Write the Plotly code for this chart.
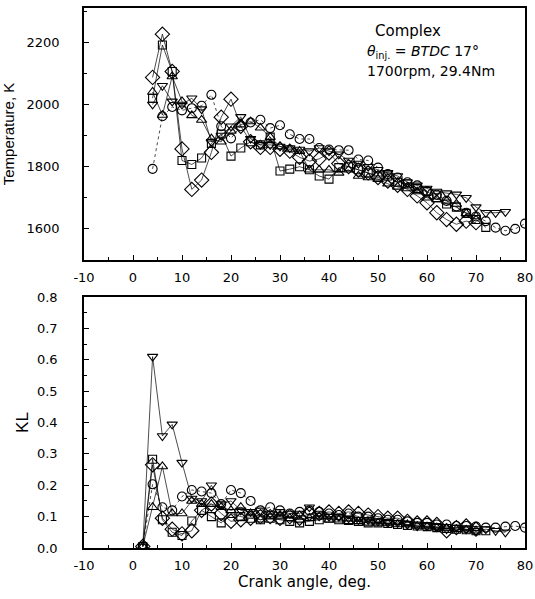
import plotly.graph_objects as go

# ---------------- data ----------------
# Temperature panel
t_x_circle = list(range(4, 82, 2))
t_circle = [1793, 1962, 1992, 1981, 1988, 1996, 2031, 1930, 1891, 1930, 1942, 1951, 1924,
            1933, 1904, 1889, 1889, 1860, 1855, 1853, 1853, 1823, 1820, 1797, 1776, 1765,
            1750, 1740, 1722, 1710, 1690, 1672, 1652, 1640, 1625, 1604, 1594, 1600, 1617]
t_x_square = list(range(4, 74, 2))
t_square = [2020, 2191, 2106, 1820, 1807, 1828, 1875, 1905, 1834, 1860, 1880, 1870, 1895,
            1786, 1792, 1800, 1790, 1770, 1760, 1797, 1800, 1790, 1780, 1770, 1770, 1750,
            1745, 1730, 1720, 1700, 1680, 1670, 1650, 1630, 1605]
t_x_tup = list(range(4, 72, 2))
t_tup = [2040, 1966, 2090, 2010, 1965, 1950, 1890, 1880, 1915, 1935, 1945, 1925, 1895,
         1865, 1855, 1850, 1790, 1790, 1790, 1780, 1790, 1770, 1765, 1760, 1745, 1735,
         1730, 1720, 1700, 1695, 1690, 1680, 1650, 1640]
t_x_tdown = list(range(4, 78, 2))
t_tdown = [2000, 2060, 2010, 2000, 2020, 1985, 1880, 1900, 1930, 1960, 1890, 1870, 1870,
           1865, 1860, 1855, 1850, 1860, 1850, 1840, 1820, 1810, 1800, 1790, 1780, 1770,
           1750, 1740, 1730, 1720, 1715, 1711, 1700, 1670, 1652, 1652, 1655]
t_x_diam = list(range(4, 72, 2))
t_diam = [2087, 2226, 2106, 1857, 1727, 1757, 1846, 1959, 2017, 1930, 1880, 1862, 1862,
          1856, 1850, 1830, 1818, 1825, 1844, 1810, 1800, 1789, 1780, 1765, 1754, 1740,
          1727, 1706, 1684, 1652, 1630, 1615, 1625, 1620]

# KL panel
k_x_circle = list(range(2, 82, 2))
k_circle = [0.005, 0.203, 0.13, 0.12, 0.164, 0.185, 0.18, 0.175, 0.14, 0.185, 0.175, 0.15,
            0.12, 0.13, 0.12, 0.11, 0.115, 0.12, 0.115, 0.11, 0.105, 0.11, 0.10, 0.10, 0.095,
            0.09, 0.09, 0.085, 0.08, 0.08, 0.075, 0.075, 0.07, 0.07, 0.068, 0.065, 0.065,
            0.068, 0.07, 0.065]
k_x_square = list(range(2, 74, 2))
k_square = [0.005, 0.283, 0.09, 0.05, 0.04, 0.086, 0.12, 0.10, 0.08, 0.11, 0.10, 0.095,
            0.09, 0.095, 0.09, 0.085, 0.08, 0.085, 0.09, 0.095, 0.09, 0.088, 0.085, 0.08,
            0.08, 0.078, 0.075, 0.072, 0.07, 0.068, 0.065, 0.062, 0.06, 0.058, 0.055, 0.055]
k_x_tup = list(range(2, 72, 2))
k_tup = [0.005, 0.13, 0.26, 0.11, 0.11, 0.15, 0.14, 0.14, 0.13, 0.12, 0.13, 0.11, 0.09,
         0.10, 0.10, 0.095, 0.09, 0.095, 0.10, 0.09, 0.09, 0.085, 0.085, 0.08, 0.08, 0.078,
         0.075, 0.075, 0.07, 0.068, 0.065, 0.062, 0.06, 0.058, 0.055]
k_x_tdown = list(range(2, 78, 2))
k_tdown = [0.005, 0.61, 0.357, 0.394, 0.272, 0.158, 0.15, 0.20, 0.14, 0.15, 0.12, 0.115,
           0.12, 0.11, 0.115, 0.11, 0.11, 0.13, 0.11, 0.10, 0.10, 0.095, 0.09, 0.09, 0.085,
           0.08, 0.08, 0.075, 0.07, 0.07, 0.068, 0.06, 0.065, 0.06, 0.055, 0.06, 0.055, 0.05]
k_x_diam = list(range(2, 72, 2))
k_diam = [0.005, 0.265, 0.095, 0.06, 0.045, 0.055, 0.12, 0.14, 0.11, 0.085, 0.09, 0.095,
          0.10, 0.10, 0.095, 0.10, 0.095, 0.11, 0.11, 0.115, 0.11, 0.115, 0.11, 0.105, 0.10,
          0.095, 0.095, 0.085, 0.08, 0.08, 0.075, 0.055, 0.065, 0.07, 0.06]

x_ticks = [-10, 0, 10, 20, 30, 40, 50, 60, 70, 80]
x_ticktext = ["-10", "0", "10", "20", "30", "40", "50", "60", "70", "80"]
t_ticks = [1600, 1800, 2000, 2200]
k_ticks = [0.0, 0.1, 0.2, 0.3, 0.4, 0.5, 0.6, 0.7, 0.8]

# ---------------- figure ----------------
fig = go.Figure()
FONT = "DejaVu Sans, Verdana, sans-serif"
TFONT = "Liberation Sans, Arial, sans-serif"

series = [
    ("circle-open", 9, "dot", t_x_circle, t_circle, k_x_circle, k_circle),
    ("square-open", 8, "solid", t_x_square, t_square, k_x_square, k_square),
    ("triangle-up-open", 9, "solid", t_x_tup, t_tup, k_x_tup, k_tup),
    ("triangle-down-open", 9, "solid", t_x_tdown, t_tdown, k_x_tdown, k_tdown),
    ("diamond-open", 11, "solid", t_x_diam, t_diam, k_x_diam, k_diam),
]
for sym, sz, dash, tx, ty, kx, ky in series:
    mk = dict(symbol=sym, size=sz, color="black", line=dict(width=1.1, color="black"))
    ln = dict(color="black", width=0.7, dash=dash)
    fig.add_trace(go.Scatter(x=tx, y=ty, mode="lines+markers", marker=mk, line=ln,
                             xaxis="x", yaxis="y", showlegend=False))
    fig.add_trace(go.Scatter(x=kx, y=ky, mode="lines+markers", marker=mk, line=ln,
                             xaxis="x2", yaxis="y2", showlegend=False))

axis_common = dict(showgrid=False, zeroline=False, showline=True, linecolor="black",
                   linewidth=1.6, mirror=True, ticks="inside", ticklen=5, tickwidth=1.3,
                   tickcolor="black", tickfont=dict(family=FONT, size=13, color="black"),
                   automargin=False)

fig.update_layout(
    width=535, height=599,
    margin=dict(l=84, r=10, t=8, b=51),
    paper_bgcolor="white", plot_bgcolor="white",
    font=dict(family=FONT, color="black"),
    xaxis=dict(**axis_common, domain=[0, 1], range=[-10, 80], tickvals=x_ticks,
               ticktext=x_ticktext, ticklabelstandoff=5,
               minor=dict(dtick=5, tick0=0, ticks="inside", ticklen=3, tickcolor="black"),
               anchor="y"),
    yaxis=dict(**axis_common, domain=[0.5333, 1], range=[1500, 2310], tickvals=t_ticks,
               ticklabelstandoff=20,
               minor=dict(dtick=100, tick0=0, ticks="inside", ticklen=3, tickcolor="black"),
               title=dict(text="Temperature, K", font=dict(family=TFONT, size=15), standoff=12),
               anchor="x"),
    xaxis2=dict(**axis_common, domain=[0, 1], range=[-10, 80], tickvals=x_ticks,
                ticktext=x_ticktext, ticklabelstandoff=5,
                minor=dict(dtick=5, tick0=0, ticks="inside", ticklen=3, tickcolor="black"),
                title=dict(text="Crank angle, deg.", font=dict(family=FONT, size=15), standoff=4),
                anchor="y2"),
    yaxis2=dict(**axis_common, domain=[0, 0.4648], range=[0, 0.8], tickvals=k_ticks,
                tickformat=".1f", ticklabelstandoff=22,
                minor=dict(dtick=0.05, tick0=0, ticks="inside", ticklen=3, tickcolor="black"),
                title=dict(text="KL", font=dict(family=TFONT, size=17), standoff=4),
                anchor="x2"),
)

fig.add_annotation(xref="paper", yref="paper", x=0.655, y=0.958, xanchor="left",
                   yanchor="middle", showarrow=False, text="Complex",
                   font=dict(family=FONT, size=15, color="black"))
fig.add_annotation(xref="paper", yref="paper", x=0.638, y=0.918, xanchor="left",
                   yanchor="middle", showarrow=False,
                   text="<i>θ</i><sub>inj.</sub> = <i>BTDC</i> 17°",
                   font=dict(family=FONT, size=14, color="black"))
fig.add_annotation(xref="paper", yref="paper", x=0.638, y=0.884, xanchor="left",
                   yanchor="middle", showarrow=False, text="1700rpm, 29.4Nm",
                   font=dict(family=FONT, size=14, color="black"))

fig.write_html("out.html")
